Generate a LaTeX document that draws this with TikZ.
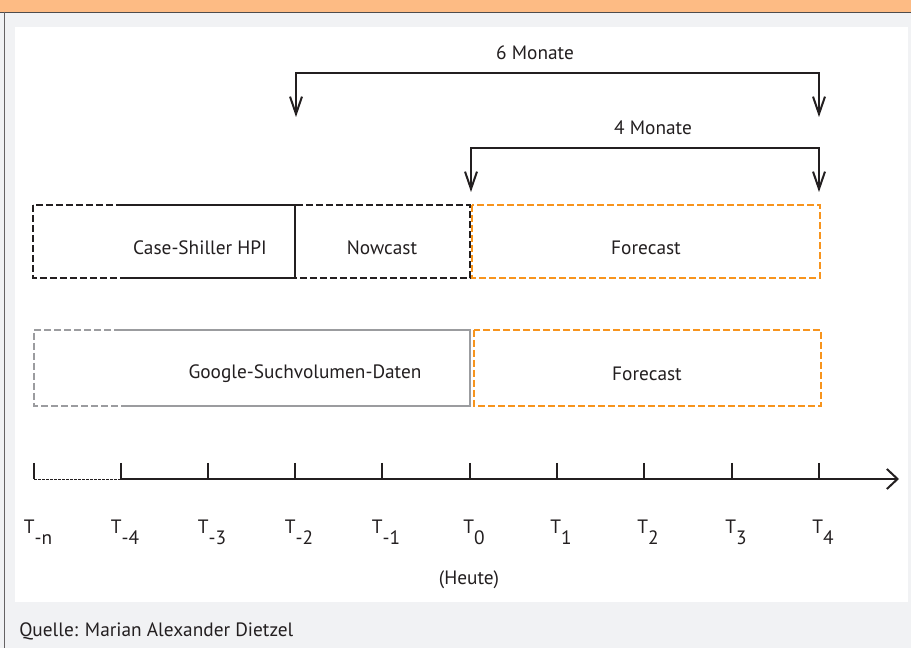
\documentclass[tikz,border=0pt]{standalone}
\usepackage{fontspec}
\setmainfont{PT Sans}
\usetikzlibrary{arrows.meta}

\definecolor{hdrorange}{HTML}{FDBB84}
\definecolor{fcorange}{HTML}{F7941D}
\definecolor{panelgray}{HTML}{F1F2F4}
\definecolor{boxgray}{HTML}{9B9C9F}
\definecolor{ink}{HTML}{231F20}

\tikzset{
  lbl/.style={font=\fontsize{14.5}{16}\selectfont, text=ink, inner sep=0pt},
  tlbl/.style={lbl, anchor=north, xshift=3pt, yshift=-30.5pt},
  tick/.style={ink, line width=0.8pt},
  dashbox/.style={line width=1.1pt, dash pattern=on 5pt off 2.5pt},
  solidbox/.style={line width=1.1pt},
  span/.style={ink, line width=1pt, {Straight Barb[length=13pt,width=9pt,line width=1.5pt]}-{Straight Barb[length=13pt,width=9pt,line width=1.5pt]}},
}
\newcommand{\tsub}[1]{T\raisebox{-8pt}{#1}}

\begin{document}
\begin{tikzpicture}[x=0.75pt, y=-0.75pt]
    \useasboundingbox (0,0) rectangle (911,648);
    % frame
    \fill[panelgray] (0,0) rectangle (911,648);
    \fill[white] (15,27) rectangle (908,602);
    \fill[hdrorange] (0,0) rectangle (911,12);
    \draw[ink!80, line width=1.1pt] (0,12.5) -- (911,12.5);
    \draw[ink!70, line width=1.1pt] (4.5,12) -- (4.5,648);

    % spans
    \coordinate (six-l) at (296,117);
    \coordinate (six-m) at (819,73);
    \coordinate (six-r) at (819,117);
    \coordinate (four-l) at (471,192);
    \coordinate (four-m) at (819,148);
    \coordinate (four-r) at (819,192);
    \draw[span] (six-l) |- (six-m) -- (six-r);
    \draw[span] (four-l) |- (four-m) -- (four-r);
    \node[lbl] (six) at (535,53) {6 Monate};
    \node[lbl] (four) at (653,128) {4 Monate};

    % Case-Shiller row
    \draw[dashbox, ink] (33,205) rectangle (470,278);
    \draw[solidbox, ink] (121,205) -- (295,205) -- (295,278) -- (121,278);
    \draw[dashbox, fcorange] (472,205) rectangle (820,278);
    \node[lbl] (hpi) at (200,248) {Case-Shiller HPI};
    \node[lbl] (now) at (382,248) {Nowcast};
    \node[lbl] (fc1) at (646,248) {Forecast};

    % Google row
    \draw[dashbox, boxgray] (121,330) -- (34,330) -- (34,406) -- (121,406);
    \draw[solidbox, boxgray] (121,330) -- (470,330) -- (470,406) -- (121,406);
    \draw[dashbox, fcorange] (474,330) rectangle (821,406);
    \node[lbl] (gsv) at (305,374) {Google-Suchvolumen-Daten};
    \node[lbl] (fc2) at (647,374) {Forecast};

    % time axis
    \draw[ink, line width=0.6pt, dash pattern=on 2pt off 1pt] (34,479) -- (121,479);
    \draw[ink, line width=1.5pt, -{Straight Barb[length=8pt,width=15pt,line width=1.5pt]}] (121,479) -- (899,479);
    \draw[tick] (34,463) -- (34,479) node[tlbl] (tn) {\tsub{-n}};
    \draw[tick] (121,463) -- (121,479) node[tlbl] (tm4) {\tsub{-4}};
    \draw[tick] (208,463) -- (208,479) node[tlbl] (tm3) {\tsub{-3}};
    \draw[tick] (295,463) -- (295,479) node[tlbl] (tm2) {\tsub{-2}};
    \draw[tick] (382,463) -- (382,479) node[tlbl] (tm1) {\tsub{-1}};
    \draw[tick] (470,463) -- (470,479) node[tlbl] (t0) {\tsub{0}};
    \draw[tick] (557,463) -- (557,479) node[tlbl] (t1) {\tsub{1}};
    \draw[tick] (644,463) -- (644,479) node[tlbl] (t2) {\tsub{2}};
    \draw[tick] (732,463) -- (732,479) node[tlbl] (t3) {\tsub{3}};
    \draw[tick] (819,463) -- (819,479) node[tlbl] (t4) {\tsub{4}};
    \node[lbl] (heute) at (469,580) {(Heute)};

    % source
    \node[lbl, anchor=west] (src) at (19,631) {Quelle: Marian Alexander Dietzel};
\end{tikzpicture}
\end{document}
